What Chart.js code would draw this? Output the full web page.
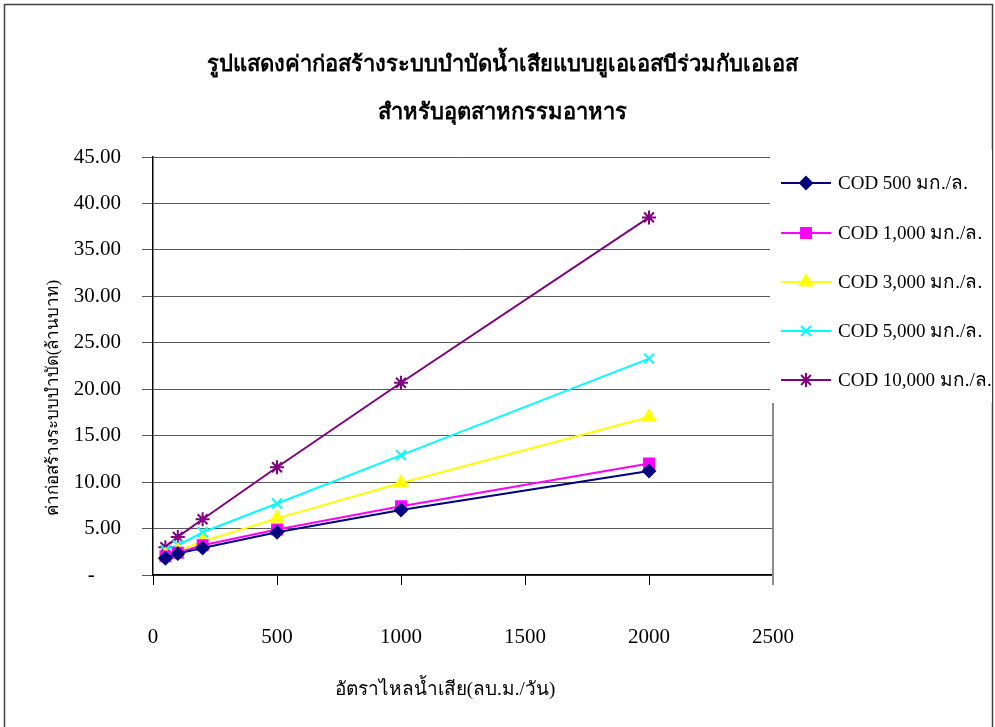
<!DOCTYPE html>
<html>
<head>
<meta charset="utf-8">
<script src="https://cdn.jsdelivr.net/npm/chart.js"></script>
<style>
  html, body { margin: 0; padding: 0; background: #fff; }
  canvas { display: block; }
</style>
</head>
<body>
<canvas id="costChart" width="995" height="727"></canvas>
<script>
// flow rate (cu.m./day) on the x axis
const flowRates = [50, 100, 200, 500, 1000, 2000]

// construction cost (million baht) for each COD level
const cod500 = [1.8, 2.3, 2.9, 4.6, 7.0, 11.2]
const cod1000 = [2.0, 2.4, 3.2, 4.9, 7.4, 12.0]
const cod3000 = [2.1, 2.6, 3.6, 6.1, 9.9, 17.0]
const cod5000 = [2.7, 3.2, 4.6, 7.7, 12.9, 23.3]
const cod10000 = [3.0, 4.1, 6.0, 11.6, 20.7, 38.5]

const seriesLabels = ['COD 500 มก./ล.', 'COD 1,000 มก./ล.', 'COD 3,000 มก./ล.', 'COD 5,000 มก./ล.', 'COD 10,000 มก./ล.']
const titleLines = ['รูปแสดงค่าก่อสร้างระบบบำบัดน้ำเสียแบบยูเอเอสบีร่วมกับเอเอส', 'สำหรับอุตสาหกรรมอาหาร']
const xTitle = 'อัตราไหลน้ำเสีย(ลบ.ม./วัน)'
const yTitle = 'ค่าก่อสร้างระบบบำบัด(ล้านบาท)'

const serif = '"Liberation Serif", "Times New Roman", serif'

const toPoints = (vals) => flowRates.map((x, i) => ({ x: x, y: vals[i] }))

const makeSet = (label, vals, color, style, radius) => {
  return {
    label: label,
    data: toPoints(vals),
    showLine: true,
    borderColor: color,
    backgroundColor: color,
    borderWidth: 2,
    pointStyle: style,
    pointRadius: radius,
    pointHoverRadius: radius,
    pointBorderWidth: 2,
    pointBorderColor: color,
    pointBackgroundColor: color,
  }
}

const datasets = [
  makeSet(seriesLabels[0], cod500, '#000080', 'rectRot', 6),
  makeSet(seriesLabels[1], cod1000, '#FF00FF', 'rect', 7),
  makeSet(seriesLabels[2], cod3000, '#FFFF00', 'triangle', 7),
  makeSet(seriesLabels[3], cod5000, '#00FFFF', 'crossRot', 7),
  makeSet(seriesLabels[4], cod10000, '#800080', 'star', 7),
]

// frame, titles, legend box and the plot's right edge
const decorations = {
  id: 'decorations',
  beforeDatasetsDraw(chart) {
    const { ctx, chartArea } = chart
    ctx.save()
    ctx.strokeStyle = '#8c8c8c'
    ctx.lineWidth = 2
    ctx.beginPath()
    ctx.moveTo(chartArea.right, chartArea.top)
    ctx.lineTo(chartArea.right, chartArea.bottom + 10)
    ctx.stroke()
    ctx.restore()
  },
  afterDraw(chart) {
    const { ctx } = chart
    ctx.save()

    // outer frame
    ctx.strokeStyle = '#404040'
    ctx.lineWidth = 1.5
    ctx.strokeRect(4.5, 4.5, 988, 740)

    // chart title
    ctx.fillStyle = '#000'
    ctx.textAlign = 'center'
    ctx.textBaseline = 'middle'
    ctx.font = 'bold 22px ' + serif
    ctx.fillText(titleLines[0], 502, 65)
    ctx.fillText(titleLines[1], 502, 113)

    // axis titles
    ctx.font = '19px ' + serif
    ctx.fillText(xTitle, 445, 690)
    ctx.save()
    ctx.translate(54, 398)
    ctx.rotate(-Math.PI / 2)
    ctx.font = '17px ' + serif
    ctx.fillText(yTitle, 0, 0)
    ctx.restore()

    // legend sits on top of the plot's right edge
    ctx.fillStyle = '#fff'
    ctx.fillRect(770, 150, 222, 253)
    const rowY = [183, 233, 282, 331, 380]
    chart.data.datasets.forEach((ds, i) => {
      const y = rowY[i]
      ctx.strokeStyle = ds.borderColor
      ctx.lineWidth = 2
      ctx.beginPath()
      ctx.moveTo(781, y)
      ctx.lineTo(831, y)
      ctx.stroke()
      Chart.helpers.drawPoint(ctx, {
        pointStyle: ds.pointStyle,
        radius: ds.pointRadius,
        rotation: 0,
        borderWidth: 2
      }, 806, y)
      ctx.fillStyle = ds.borderColor
      ctx.fill()
      ctx.fillStyle = '#000'
      ctx.textAlign = 'left'
      ctx.font = '19px ' + serif
      ctx.fillText(ds.label, 838, y + 1)
    })
    ctx.restore()
  }
}

new Chart(document.getElementById('costChart'), {
  type: 'scatter',
  data: { datasets: datasets },
  options: {
    responsive: false,
    devicePixelRatio: 1,
    animation: false,
    events: [],
    layout: { padding: { top: 157, right: 222, left: 0, bottom: 0 } },
    plugins: {
      legend: { display: false },
      tooltip: { enabled: false },
    },
    scales: {
      x: {
        type: 'linear',
        min: 0,
        max: 2500,
        afterFit: (scale) => { scale.height = 152 },
        ticks: {
          stepSize: 500,
          padding: 40,
          color: '#000',
          font: { family: serif, size: 21 },
          maxRotation: 0,
          callback: (v) => String(v),
        },
        grid: {
          drawOnChartArea: false,
          drawTicks: true,
          tickLength: 10,
          color: '#000',
        },
        border: { color: '#000', width: 1.5 },
      },
      y: {
        min: 0,
        max: 45,
        afterFit: (scale) => { scale.width = 153 },
        ticks: {
          stepSize: 5,
          padding: 21,
          color: '#000',
          font: { family: serif, size: 21 },
          callback: (v) => v === 0 ? '-     ' : v.toFixed(2),
        },
        grid: {
          color: '#595959',
          tickLength: 11,
          lineWidth: 1,
        },
        border: { color: '#000', width: 1.5 },
      }
    }
  },
  plugins: [decorations]
})
</script>
</body>
</html>
